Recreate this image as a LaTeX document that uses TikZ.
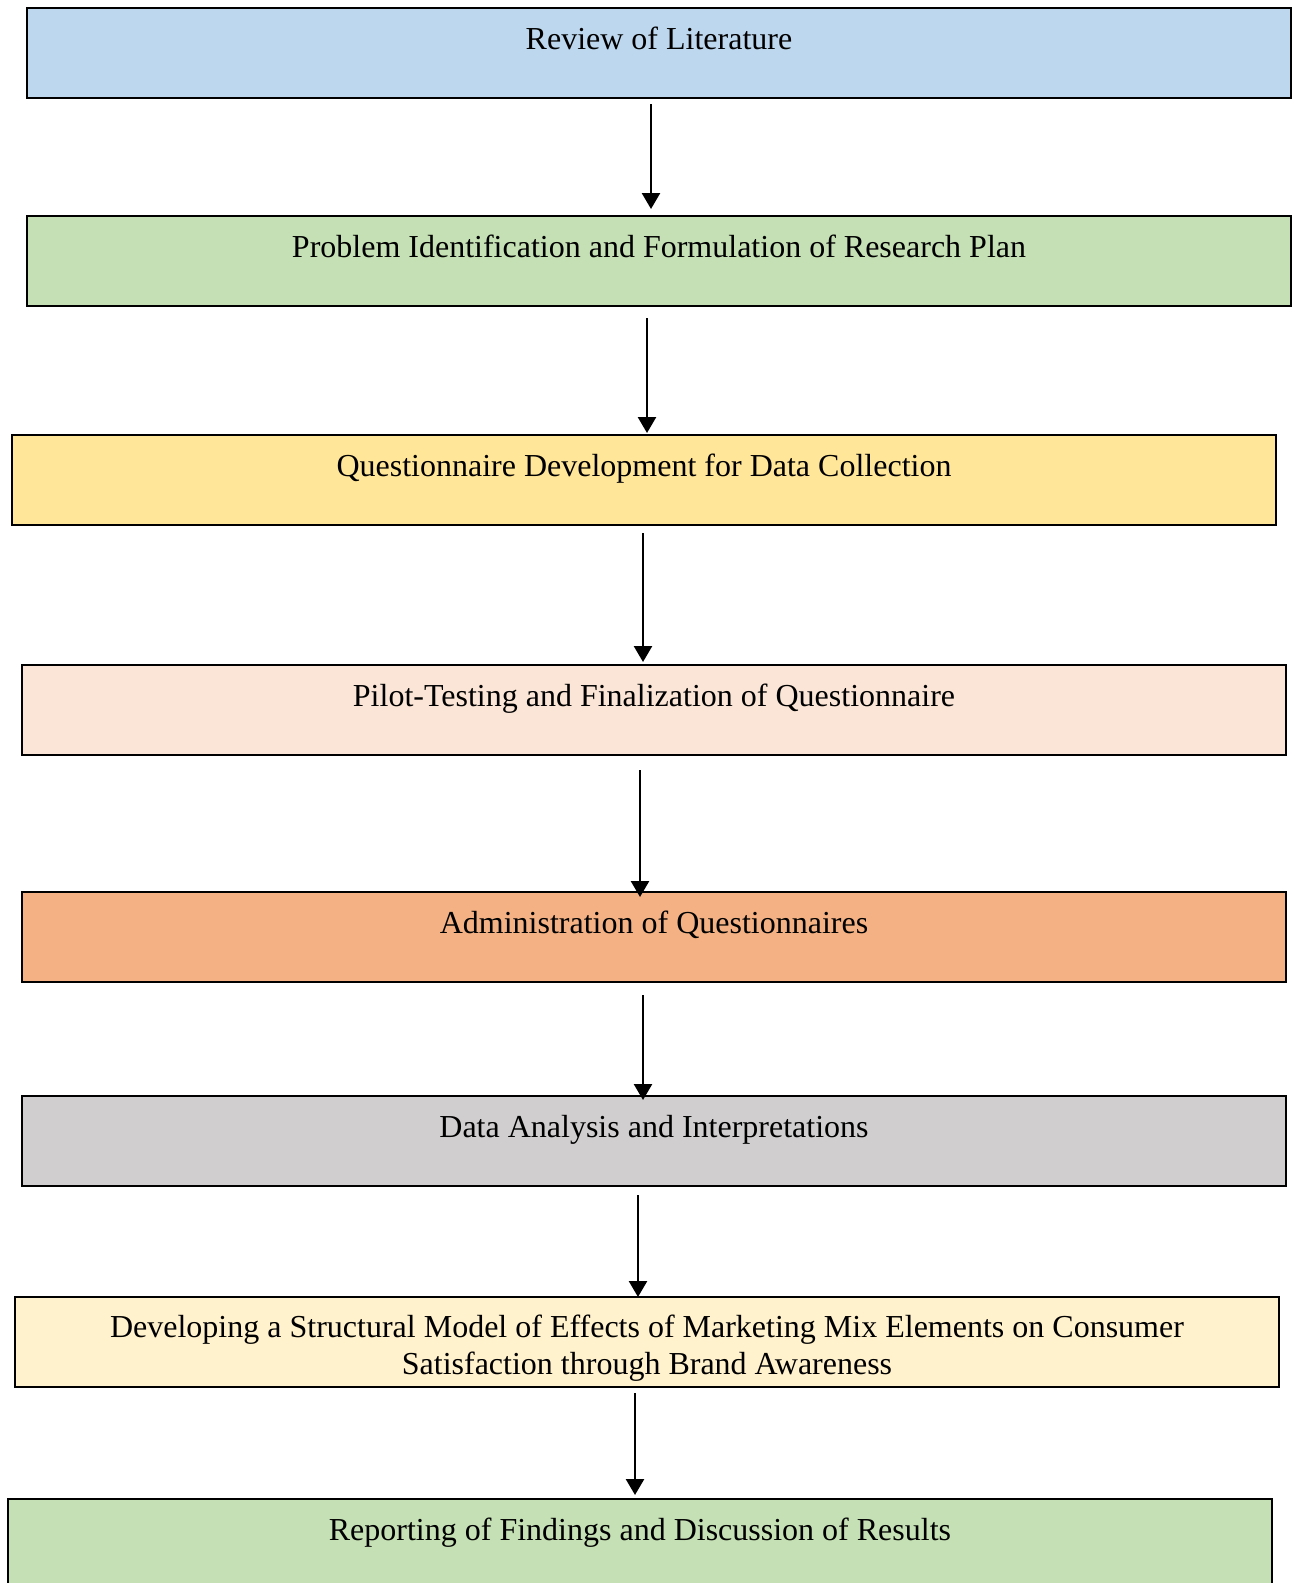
\documentclass[tikz,border=0pt]{standalone}
\usepackage{fontspec}
\setmainfont{Liberation Serif}
\usetikzlibrary{arrows.meta,calc}

\definecolor{litblue}{HTML}{BDD7EE}
\definecolor{plangreen}{HTML}{C5E0B4}
\definecolor{qyellow}{HTML}{FFE699}
\definecolor{pilotpeach}{HTML}{FBE5D6}
\definecolor{adminorange}{HTML}{F4B183}
\definecolor{anagray}{HTML}{D0CECE}
\definecolor{modelcream}{HTML}{FFF2CC}

\tikzset{
  stage/.style={draw=black, line width=2.4pt, rectangle, anchor=north west,
    inner xsep=0pt, inner ysep=0pt, outer sep=0pt, minimum width=1264pt,
    align=center, text height=41pt, text depth=49pt,
    font=\fontsize{32}{36.8}\selectfont},
  flow/.style={line width=2.6pt, -{Triangle[length=16pt,width=18pt]}}
}

\begin{document}
\begin{tikzpicture}[x=1pt,y=-1pt]
  \useasboundingbox (0,0) rectangle (1294,1583);
  \clip (0,0) rectangle (1294,1583);
  \fill[white] (0,0) rectangle (1294,1583);

  % research stages
  \node[stage, fill=litblue]     (lit)    at (27,8)    {Review of Literature};
  \node[stage, fill=plangreen]   (plan)   at (27,216)  {Problem Identification and Formulation of Research Plan};
  \node[stage, fill=qyellow]     (quest)  at (12,435)  {Questionnaire Development for Data Collection};
  \node[stage, fill=pilotpeach]  (pilot)  at (22,665)  {Pilot-Testing and Finalization of Questionnaire};
  \node[stage, fill=adminorange] (admin)  at (22,892)  {Administration of Questionnaires};
  \node[stage, fill=anagray]     (anal)   at (22,1096) {Data Analysis and Interpretations};
  \node[stage, fill=modelcream, text height=77.5pt, text depth=12.5pt]
                                 (model)  at (15,1297) {Developing a Structural Model of Effects of Marketing Mix Elements on Consumer\\Satisfaction through Brand Awareness};
  \node[stage, fill=plangreen]   (report) at (8,1499)  {Reporting of Findings and Discussion of Results};

  % connectors between stages
  \draw[flow] ($(lit.south)+(-8,6)$)     -- ($(plan.north)+(-8,-7)$);
  \draw[flow] ($(plan.south)+(-12,12)$)  -- ($(quest.north)+(3,-2)$);
  \draw[flow] ($(quest.south)+(-1,8)$)   -- ($(pilot.north)+(-11,-3)$);
  \draw[flow] ($(pilot.south)+(-14,15)$) -- ($(admin.north)+(-14,5)$);
  \draw[flow] ($(admin.south)+(-11,13)$) -- ($(anal.north)+(-11,4)$);
  \draw[flow] ($(anal.south)+(-16,9)$)   -- ($(model.north)+(-9,0)$);
  \draw[flow] ($(model.south)+(-12,6)$)  -- ($(report.north)+(-5,-4)$);
\end{tikzpicture}
\end{document}
